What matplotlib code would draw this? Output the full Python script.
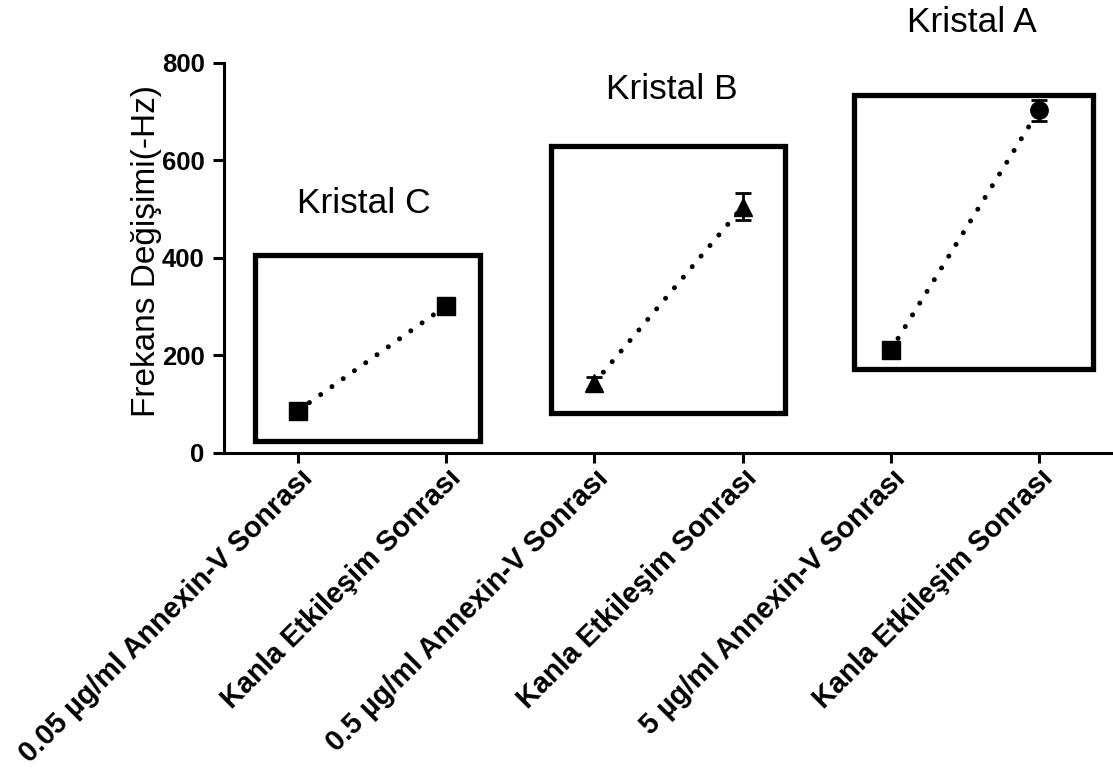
"""Frekans degisimi plot for the three crystals (Kristal A, B, C)."""
import matplotlib
matplotlib.use("Agg")
import matplotlib.pyplot as plt
import matplotlib.transforms as mtransforms
from matplotlib.patches import Rectangle

plt.rcParams["font.family"] = ["Liberation Sans", "DejaVu Sans"]

CATEGORIES = [
    "0.05 µg/ml Annexin-V Sonrası",
    "Kanla Etkileşim Sonrası",
    "0.5 µg/ml Annexin-V Sonrası",
    "Kanla Etkileşim Sonrası",
    "5 µg/ml Annexin-V Sonrası",
    "Kanla Etkileşim Sonrası",
]

CRYSTALS = ["Kristal C", "Kristal B", "Kristal A"]
MEANS = [[87, 302], [144, 505], [211, 703]]
ERRORS = [[8, 14], [12, 28], [10, 22]]
MARKERS = [["s", "s"], ["^", "^"], ["s", "o"]]

# frames drawn around each crystal pair (x0, x1, y0, y1 in data units)
BOXES = [(-0.29, 1.227, 24, 406), (1.705, 3.283, 81, 629), (3.749, 5.367, 173, 735)]
LABEL_POS = [(0.44, 511), (2.52, 745), (4.55, 883)]

fig = plt.figure(figsize=(11.13, 7.71), dpi=100)
ax = fig.add_axes([0.2013, 0.4125, 0.7987, 0.5058])

for i, name in enumerate(CRYSTALS):
    xs = [2 * i, 2 * i + 1]
    ax.plot(xs, MEANS[i], color="black", linewidth=3.6,
            linestyle=(0, (0.01, 2.75)), dash_capstyle="round", zorder=2)
    for x, m, e, mk in zip(xs, MEANS[i], ERRORS[i], MARKERS[i]):
        ax.errorbar(x, m, yerr=e, fmt=mk, color="black", markersize=12.5,
                    capsize=5.5, capthick=2, elinewidth=2, zorder=3)
    x0, x1, y0, y1 = BOXES[i]
    ax.add_patch(Rectangle((x0, y0), x1 - x0, y1 - y0, fill=False,
                           edgecolor="black", linewidth=3.8, zorder=1))
    lx, ly = LABEL_POS[i]
    ax.text(lx, ly, name, ha="center", va="center", fontsize=25.5,
            clip_on=False)

ax.set_xlim(-0.5, 5.5)
ax.set_ylim(0, 800)
ax.set_yticks([0, 200, 400, 600, 800])
ax.set_xticks(range(len(CATEGORIES)))
ax.set_xticklabels(CATEGORIES, rotation=45, ha="right", va="top",
                   rotation_mode="anchor", fontsize=20.7, fontweight="bold")
shift = mtransforms.ScaledTranslation(6 / 100, 0, fig.dpi_scale_trans)
for lab in ax.get_xticklabels():
    lab.set_transform(lab.get_transform() + shift)
for lab in ax.get_yticklabels():
    lab.set_fontsize(18.5)
    lab.set_fontweight("bold")

ax.spines["top"].set_visible(False)
ax.spines["right"].set_visible(False)
ax.spines["left"].set_linewidth(2.2)
ax.spines["bottom"].set_linewidth(2.2)
ax.tick_params(axis="y", length=8, width=2.2, pad=6)
ax.tick_params(axis="x", length=7, width=2.2, pad=1)

ax.text(-0.0877, 0.517, "Frekans Değişimi(-Hz)", transform=ax.transAxes,
        rotation=90, ha="center", va="center", fontsize=24)

fig.savefig("out.png", dpi=100)
